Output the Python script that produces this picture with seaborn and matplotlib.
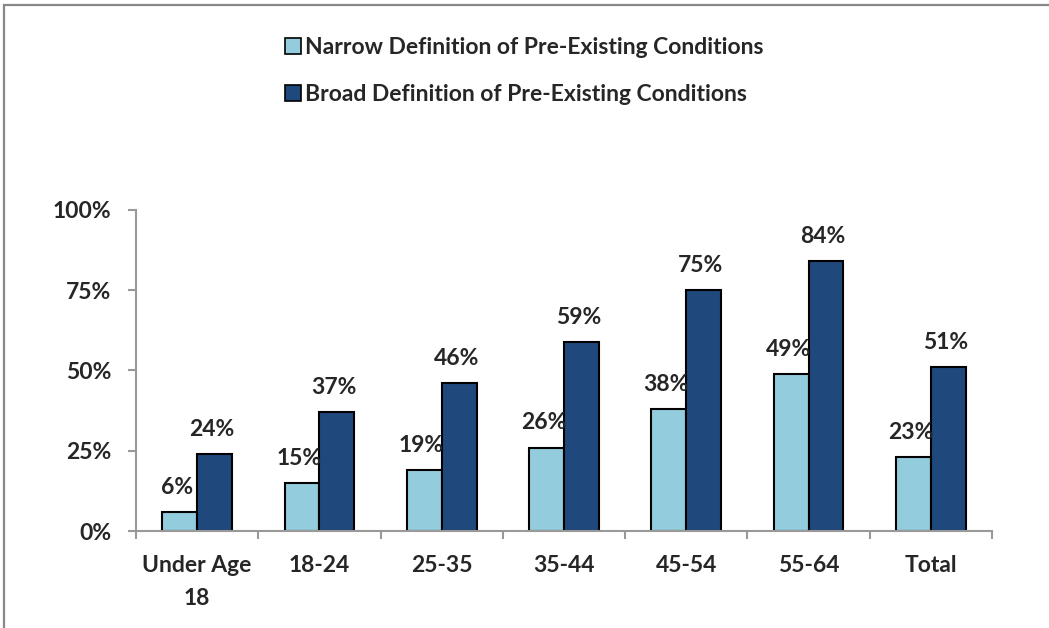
import matplotlib
matplotlib.use('Agg')
import matplotlib.pyplot as plt
import matplotlib.patches as mpatches
import pandas as pd
import seaborn as sns

AGE_GROUPS = ['Under Age\n18', '18-24', '25-35', '35-44', '45-54', '55-64', 'Total']
NARROW = [6, 15, 19, 26, 38, 49, 23]
BROAD = [24, 37, 46, 59, 75, 84, 51]
SERIES = ['Narrow Definition of Pre-Existing Conditions',
          'Broad Definition of Pre-Existing Conditions']
COLORS = ['#93CDDD', '#1F497D']
YTICKS = [0, 25, 50, 75, 100]

sns.set_style('white')
plt.rcParams['font.family'] = ['Lato', 'DejaVu Sans']
plt.rcParams['font.weight'] = 'bold'

W, H = 1049, 628
FS = 16.5

df = pd.DataFrame({
    'group': AGE_GROUPS * 2,
    'series': [SERIES[0]] * len(AGE_GROUPS) + [SERIES[1]] * len(AGE_GROUPS),
    'value': NARROW + BROAD,
})

fig = plt.figure(figsize=(W / 100, H / 100), dpi=100)
ax = fig.add_axes([136 / W, 1 - 531 / H, (992 - 136) / W, (531 - 210) / H])

sns.barplot(data=df, x='group', y='value', hue='series', order=AGE_GROUPS,
            hue_order=SERIES, palette=COLORS, width=0.57, gap=0,
            edgecolor='black', linewidth=1.5, saturation=1, ax=ax,
            legend=False)

# data labels
for cont in ax.containers:
    for bar in cont:
        h = bar.get_height()
        ax.annotate(f'{h:.0f}%', (bar.get_x() + bar.get_width() / 2, h),
                    xytext=(-2, 13), textcoords='offset points',
                    ha='center', va='baseline', fontsize=FS,
                    fontweight='bold')

ax.set_ylim(0, 100)
ax.set_xlim(-0.5, len(AGE_GROUPS) - 0.5)
ax.set_yticks(YTICKS)
ax.set_yticklabels([f'{t}%' for t in YTICKS], fontsize=FS, fontweight='bold')
ax.set_xticks(range(len(AGE_GROUPS)))
ax.set_xticklabels(AGE_GROUPS, fontsize=FS, fontweight='bold',
                   linespacing=1.75)
ax.set_xticks([i - 0.5 for i in range(len(AGE_GROUPS) + 1)], minor=True)
ax.tick_params(axis='x', which='major', length=0, pad=17)
ax.tick_params(axis='x', which='minor', length=6, width=1.5,
               color='#999999', direction='out', bottom=True)
ax.tick_params(axis='y', length=6, width=1.5, color='#999999',
               direction='out', left=True, pad=12)
ax.set_xlabel('')
ax.set_ylabel('')
for side in ['top', 'right']:
    ax.spines[side].set_visible(False)
for side in ['left', 'bottom']:
    ax.spines[side].set_color('#999999')
    ax.spines[side].set_linewidth(1.5)

handles = [mpatches.Patch(facecolor=c, edgecolor='black', linewidth=1.2)
           for c in COLORS]
ax.legend(handles, SERIES, loc='upper left',
          bbox_to_anchor=(264 / W, 1 - 16 / H), bbox_transform=fig.transFigure,
          frameon=False, handlelength=0.7, handleheight=0.7,
          handletextpad=0.2, labelspacing=1.15,
          prop={'weight': 'bold', 'size': FS})

# outer frame of the slide
fig.add_artist(mpatches.Rectangle((4 / W, -0.1), 1.2, 1 - 5 / H + 0.1,
                                  transform=fig.transFigure, fill=False,
                                  edgecolor='#888888', linewidth=1.6))

fig.savefig('out.png', dpi=100)
